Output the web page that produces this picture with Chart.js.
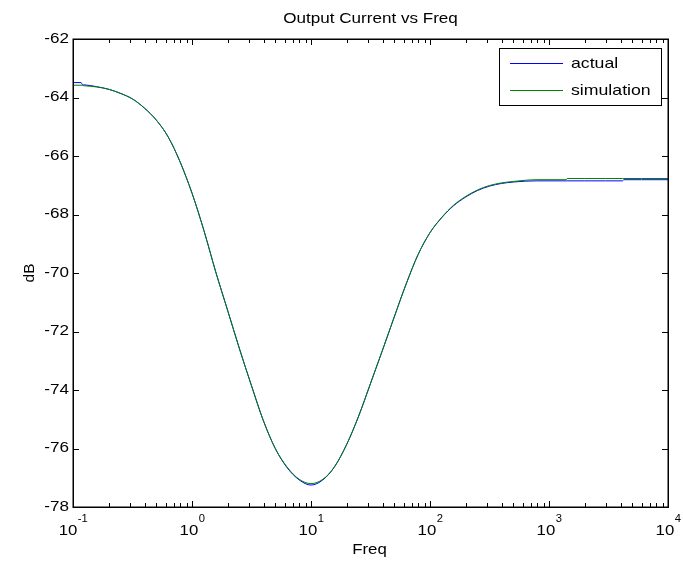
<!DOCTYPE html>
<html>
<head>
<meta charset="utf-8">
<script src="https://cdn.jsdelivr.net/npm/chart.js@4/dist/chart.umd.min.js"></script>
<style>
html,body{margin:0;padding:0;background:#fff;}
#wrap{width:683px;height:565px;position:relative;}
</style>
</head>
<body>
<div id="wrap"><canvas id="c" width="683" height="565"></canvas></div>
<script>
// ---- data ----
const freq = [0.1, 0.117, 0.12, 0.126, 0.158, 0.2, 0.251, 0.316, 0.398, 0.501, 0.631, 0.794,
  1, 1.26, 1.58, 2, 2.51, 3.16, 3.98, 5.01, 6.31, 7.94,
  10, 12.6, 15.8, 20, 25.1, 31.6, 39.8, 50.1, 63.1, 79.4,
  100, 126, 158, 200, 251, 316, 398, 501, 631, 794,
  1000, 1400, 1420, 2000, 3000, 4150, 4250, 6000, 10000];
const actual = [-63.49, -63.49, -63.56, -63.57, -63.63, -63.72, -63.86, -64.05, -64.36, -64.77, -65.35, -66.2,
  -67.27, -68.55, -69.95, -71.30, -72.60, -73.85, -75.05, -76.00, -76.66, -77.07,
  -77.25, -77.07, -76.62, -75.85, -74.90, -73.78, -72.65, -71.50, -70.37, -69.37,
  -68.62, -68.10, -67.70, -67.40, -67.18, -67.03, -66.94, -66.89, -66.86, -66.85,
  -66.85, -66.85, -66.85, -66.85, -66.85, -66.85, -66.81, -66.81, -66.81];
const simulation = [-63.58, -63.58, -63.59, -63.60, -63.64, -63.72, -63.86, -64.05, -64.36, -64.77, -65.35, -66.2,
  -67.27, -68.55, -69.95, -71.30, -72.60, -73.85, -75.05, -76.00, -76.64, -77.05,
  -77.20, -77.05, -76.62, -75.85, -74.90, -73.78, -72.65, -71.50, -70.37, -69.37,
  -68.62, -68.09, -67.68, -67.38, -67.16, -67.01, -66.92, -66.87, -66.83, -66.81,
  -66.81, -66.81, -66.77, -66.77, -66.77, -66.77, -66.77, -66.77, -66.77];
const seriesNames = ['actual', 'simulation'];
const seriesColors = ['#0000ff', '#008000'];
const xMajorTicks = [0.1, 1, 10, 100, 1000, 10000];
const xTickExponents = ['-1', '0', '1', '2', '3', '4'];
const yTicks = [-62, -64, -66, -68, -70, -72, -74, -76, -78];
const titleText = 'Output Current vs Freq';
const xLabel = 'Freq';
const yLabel = 'dB';

const FONT = '"Liberation Sans", Arial, Helvetica, sans-serif';

function stext(ctx, txt, x, y, size, sx, align, baseline) {
  ctx.save();
  ctx.translate(x, y);
  ctx.scale(sx, 1);
  ctx.font = size + 'px ' + FONT;
  ctx.textAlign = align;
  ctx.textBaseline = baseline;
  ctx.fillText(txt, 0, 0);
  ctx.restore();
}
function twidth(ctx, txt, size, sx) {
  ctx.save();
  ctx.font = size + 'px ' + FONT;
  const w = ctx.measureText(txt).width * sx;
  ctx.restore();
  return w;
}

const decor = {
  id: 'decor',
  afterDraw(chart) {
    const ctx = chart.ctx;
    const a = chart.chartArea;
    const xs = chart.scales.x, ys = chart.scales.y;
    ctx.save();
    ctx.strokeStyle = '#000';
    ctx.fillStyle = '#000';
    // frame
    ctx.lineWidth = 1.5;
    ctx.beginPath();
    ctx.rect(Math.round(a.left) + 0.25, Math.round(a.top) + 0.25,
             Math.round(a.right - a.left), Math.round(a.bottom - a.top));
    ctx.stroke();
    // x ticks
    ctx.lineWidth = 1;
    ctx.beginPath();
    for (let e = 0; e < xMajorTicks.length; e++) {
      const base = xMajorTicks[e];
      const px = Math.round(xs.getPixelForValue(base)) + 0.5;
      ctx.moveTo(px, a.bottom); ctx.lineTo(px, a.bottom - 6);
      ctx.moveTo(px, a.top); ctx.lineTo(px, a.top + 6);
      if (e < xMajorTicks.length - 1) {
        for (let m = 2; m <= 9; m++) {
          const mx = Math.round(xs.getPixelForValue(base * m)) + 0.5;
          ctx.moveTo(mx, a.bottom); ctx.lineTo(mx, a.bottom - 4);
          ctx.moveTo(mx, a.top); ctx.lineTo(mx, a.top + 4);
        }
      }
    }
    // y ticks
    yTicks.forEach(v => {
      const py = Math.round(ys.getPixelForValue(v)) + 0.5;
      ctx.moveTo(a.left, py); ctx.lineTo(a.left + 6, py);
      ctx.moveTo(a.right, py); ctx.lineTo(a.right - 6, py);
    });
    ctx.stroke();
    // y tick labels
    yTicks.forEach(v => {
      stext(ctx, String(v), a.left - 4, ys.getPixelForValue(v), 14, 1.22, 'right', 'middle');
    });
    // x tick labels 10^n
    xMajorTicks.forEach((v, i) => {
      const px = xs.getPixelForValue(v);
      const wb = twidth(ctx, '10', 15, 1.12);
      const we = twidth(ctx, xTickExponents[i], 10, 1.12);
      const x0 = px - (wb + we) / 2;
      stext(ctx, '10', x0, a.bottom + 27.5, 15, 1.12, 'left', 'alphabetic');
      stext(ctx, xTickExponents[i], x0 + wb + 0.5, a.bottom + 14.5, 10, 1.12, 'left', 'alphabetic');
    });
    // title
    stext(ctx, titleText, (a.left + a.right) / 2, 23, 14, 1.22, 'center', 'alphabetic');
    // x label
    stext(ctx, xLabel, (a.left + a.right) / 2 - 1, a.bottom + 47, 14, 1.2, 'center', 'alphabetic');
    // y label
    ctx.save();
    ctx.translate(30, (a.top + a.bottom) / 2);
    ctx.rotate(-Math.PI / 2);
    stext(ctx, yLabel, 0, 0, 14, 1.1, 'center', 'middle');
    ctx.restore();
    // legend
    const lx = 499, ly = 48, lw = 162, lh = 57;
    ctx.fillStyle = '#fff';
    ctx.fillRect(lx, ly, lw, lh);
    ctx.strokeStyle = '#000';
    ctx.lineWidth = 1;
    ctx.strokeRect(lx + 0.5, ly + 0.5, lw, lh);
    const rows = [63.5, 90.5];
    seriesNames.forEach((n, i) => {
      ctx.strokeStyle = seriesColors[i];
      ctx.beginPath();
      ctx.moveTo(510, rows[i]); ctx.lineTo(563, rows[i]);
      ctx.stroke();
      ctx.fillStyle = '#000';
      stext(ctx, n, 571, rows[i], 15, 1.18, 'left', 'middle');
    });
    ctx.restore();
  }
};

const toPts = arr => freq.map((f, i) => ({x: f, y: arr[i]}));

new Chart(document.getElementById('c'), {
  type: 'scatter',
  data: {
    datasets: [
      {label: seriesNames[0], data: toPts(actual), borderColor: seriesColors[0], backgroundColor: seriesColors[0],
       showLine: true, pointRadius: 0, borderWidth: 1, cubicInterpolationMode: 'monotone', order: 1},
      {label: seriesNames[1], data: toPts(simulation), borderColor: seriesColors[1], backgroundColor: seriesColors[1],
       showLine: true, pointRadius: 0, borderWidth: 1, cubicInterpolationMode: 'monotone', order: 0}
    ]
  },
  options: {
    responsive: false,
    animation: false,
    layout: {padding: {left: 73, right: 15, top: 39, bottom: 58}},
    plugins: {legend: {display: false}, tooltip: {enabled: false}, title: {display: false}},
    scales: {
      x: {type: 'logarithmic', min: 0.1, max: 10000, display: false},
      y: {type: 'linear', min: -78, max: -62, display: false}
    }
  },
  plugins: [decor]
});
</script>
</body>
</html>
